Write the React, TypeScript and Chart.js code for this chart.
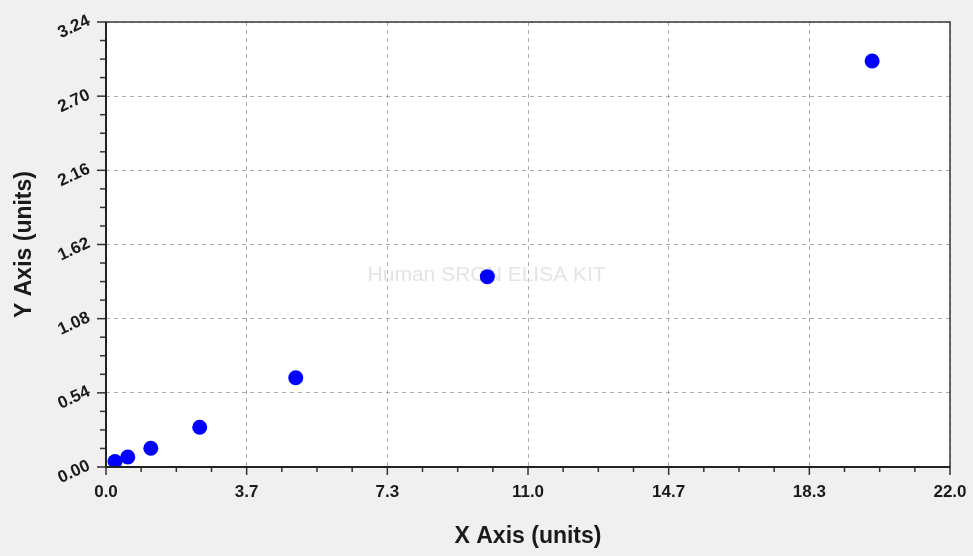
import React, { useEffect, useRef } from "react";
import { Chart, registerables } from "chart.js";

Chart.register(...registerables);

const xValues = [0.235, 0.568, 1.168, 2.443, 4.946, 9.94, 19.97];
const yValues = [0.04, 0.073, 0.136, 0.289, 0.65, 1.386, 2.956];
const xMajorTicks = [0, 22 / 6, 44 / 6, 11, 88 / 6, 110 / 6, 22];
const xTickLabels = ["0.0", "3.7", "7.3", "11.0", "14.7", "18.3", "22.0"];
const yMajorTicks = [0, 0.54, 1.08, 1.62, 2.16, 2.7, 3.24];
const yTickLabels = ["0.00", "0.54", "1.08", "1.62", "2.16", "2.70", "3.24"];
const minorDivisions = 4;
const xTitle = "X Axis (units)";
const yTitle = "Y Axis (units)";
const watermark = "Human SRGN ELISA KIT";

const FONT = "'Liberation Sans', Arial, sans-serif";
const TEXT = "#1a1a1a";

const chartPlugin = {
  id: "customFrame",
  beforeDraw(chart: any) {
    const { ctx, chartArea: a } = chart;
    ctx.save();
    ctx.fillStyle = "#ffffff";
    ctx.fillRect(a.left, a.top, a.right - a.left, a.bottom - a.top);
    ctx.restore();
  },
  beforeDatasetsDraw(chart: any) {
    const { ctx, chartArea: a } = chart;
    ctx.save();
    ctx.font = `21px ${FONT}`;
    ctx.fillStyle = "#e4e4e4";
    ctx.textAlign = "center";
    ctx.textBaseline = "middle";
    ctx.fillText(watermark, a.left + (a.right - a.left) * 0.451, a.top + (a.bottom - a.top) * 0.569);
    ctx.restore();
  },
  afterDraw(chart: any) {
    const { ctx, chartArea: a, scales } = chart;
    const xs = scales.x;
    const ys = scales.y;
    ctx.save();
    ctx.strokeStyle = "#333333";
    ctx.lineWidth = 1.5;
    const xMin = xMajorTicks[0];
    const xStep = (xMajorTicks[1] - xMajorTicks[0]) / minorDivisions;
    const nx = (xMajorTicks.length - 1) * minorDivisions;
    for (let i = 0; i <= nx; i++) {
      const px = xs.getPixelForValue(xMin + i * xStep);
      const len = i % minorDivisions === 0 ? 8 : 5;
      ctx.beginPath();
      ctx.moveTo(px, a.bottom);
      ctx.lineTo(px, a.bottom + len);
      ctx.stroke();
    }
    const yMin = yMajorTicks[0];
    const yStep = (yMajorTicks[1] - yMajorTicks[0]) / minorDivisions;
    const ny = (yMajorTicks.length - 1) * minorDivisions;
    for (let i = 0; i <= ny; i++) {
      const py = ys.getPixelForValue(yMin + i * yStep);
      const len = i % minorDivisions === 0 ? 9 : 6;
      ctx.beginPath();
      ctx.moveTo(a.left, py);
      ctx.lineTo(a.left - len, py);
      ctx.stroke();
    }
    ctx.strokeStyle = "#3a3a3a";
    ctx.lineWidth = 1.5;
    ctx.strokeRect(a.left, a.top, a.right - a.left, a.bottom - a.top);
    ctx.lineWidth = 2;
    ctx.strokeStyle = "#222222";
    ctx.beginPath();
    ctx.moveTo(a.left, a.top);
    ctx.lineTo(a.left, a.bottom);
    ctx.lineTo(a.right, a.bottom);
    ctx.stroke();
    ctx.font = `bold 17px ${FONT}`;
    ctx.fillStyle = TEXT;
    ctx.textAlign = "right";
    ctx.textBaseline = "middle";
    yMajorTicks.forEach((v, i) => {
      const py = ys.getPixelForValue(v);
      ctx.save();
      ctx.translate(a.left - 17, py - 2);
      ctx.rotate((-25 * Math.PI) / 180);
      ctx.fillText(yTickLabels[i], 0, 0);
      ctx.restore();
    });
    ctx.restore();
  },
};

export default function App() {
  const canvasRef = useRef<HTMLCanvasElement | null>(null);

  useEffect(() => {
    document.body.style.margin = "0";
    const canvas = canvasRef.current;
    if (!canvas) return;
    const chart = new Chart(canvas, {
      type: "scatter",
      data: {
        datasets: [
          {
            label: "Standard",
            data: xValues.map((x, i) => ({ x, y: yValues[i] })),
            backgroundColor: "#0000ff",
            borderColor: "#0000ff",
            pointRadius: 7.5,
            pointHoverRadius: 7.5,
            borderWidth: 0,
          },
        ],
      },
      options: {
        animation: false,
        responsive: true,
        maintainAspectRatio: false,
        layout: { padding: { top: 22, right: 23, left: 0, bottom: 0 } },
        plugins: {
          legend: { display: false },
          tooltip: { enabled: false },
        },
        scales: {
          x: {
            type: "linear",
            min: 0,
            max: 22,
            afterBuildTicks: (s: any) => {
              s.ticks = xMajorTicks.map((value) => ({ value }));
            },
            afterFit: (s: any) => {
              s.height = 89;
              s.paddingLeft = 0;
              s.paddingRight = 0;
            },
            ticks: {
              autoSkip: false,
              maxRotation: 0,
              minRotation: 0,
              padding: 15,
              color: TEXT,
              font: { family: FONT, size: 17, weight: "bold" },
              callback: (_v: any, i: number) => xTickLabels[i],
            },
            grid: { color: "#ababab", lineWidth: 1, drawTicks: false },
            border: { display: false, dash: [4, 4] },
            title: {
              display: true,
              text: xTitle,
              color: TEXT,
              font: { family: FONT, size: 23, weight: "bold" },
              padding: { top: 0, bottom: 6 },
            },
          },
          y: {
            type: "linear",
            min: 0,
            max: 3.24,
            afterBuildTicks: (s: any) => {
              s.ticks = yMajorTicks.map((value) => ({ value }));
            },
            afterFit: (s: any) => {
              s.width = 106;
              s.paddingTop = 0;
              s.paddingBottom = 0;
            },
            ticks: { display: false },
            grid: { color: "#ababab", lineWidth: 1, drawTicks: false },
            border: { display: false, dash: [4, 4] },
            title: {
              display: true,
              text: yTitle,
              color: TEXT,
              font: { family: FONT, size: 23, weight: "bold" },
              padding: { top: 11, bottom: 0 },
            },
          },
        },
      },
      plugins: [chartPlugin],
    });
    return () => chart.destroy();
  }, []);

  return (
    <div style={{ width: 973, height: 556, background: "#f0f0f0", position: "relative" }}>
      <canvas ref={canvasRef} />
    </div>
  );
}
